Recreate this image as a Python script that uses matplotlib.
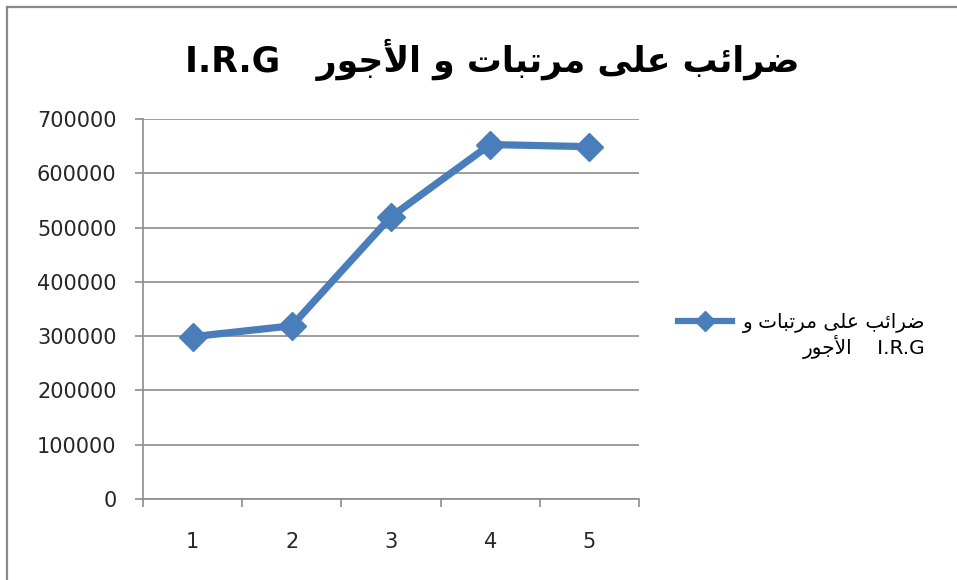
import numpy as np
import matplotlib
matplotlib.use('Agg')
from matplotlib import pyplot as plt
from matplotlib.lines import Line2D

# data
categories = [1, 2, 3, 4, 5]
values = [299000, 319000, 520000, 653000, 649000]
y_ticks = [0, 100000, 200000, 300000, 400000, 500000, 600000, 700000]
title_text = 'ضرائب على مرتبات و الأجور   I.R.G'
legend_line1 = 'ضرائب على مرتبات و'
legend_line2 = 'الأجور    I.R.G'

# minimal arabic shaping (presentation forms: isolated, final, initial, medial)
FORMS = {
    'ض': (0xFEBD, 0xFEBE, 0xFEBF, 0xFEC0),
    'ر': (0xFEAD, 0xFEAE),
    'ا': (0xFE8D, 0xFE8E),
    'ئ': (0xFE89, 0xFE8A, 0xFE8B, 0xFE8C),
    'ب': (0xFE8F, 0xFE90, 0xFE91, 0xFE92),
    'ع': (0xFEC9, 0xFECA, 0xFECB, 0xFECC),
    'ل': (0xFEDD, 0xFEDE, 0xFEDF, 0xFEE0),
    'ى': (0xFEEF, 0xFEF0),
    'م': (0xFEE1, 0xFEE2, 0xFEE3, 0xFEE4),
    'ت': (0xFE95, 0xFE96, 0xFE97, 0xFE98),
    'و': (0xFEED, 0xFEEE),
    'أ': (0xFE83, 0xFE84),
    'ج': (0xFE9D, 0xFE9E, 0xFE9F, 0xFEA0),
}
LAM_ALEF = {'أ': (0xFEF7, 0xFEF8), 'ا': (0xFEFB, 0xFEFC)}


def shape_word(w):
    out = []
    i = 0
    prev_dual = False
    while i < len(w):
        c = w[i]
        if c == 'ل' and i + 1 < len(w) and w[i + 1] in LAM_ALEF:
            f = LAM_ALEF[w[i + 1]]
            out.append(chr(f[1] if prev_dual else f[0]))
            prev_dual = False
            i += 2
            continue
        f = FORMS[c]
        dual = len(f) == 4
        nxt = dual and i + 1 < len(w) and w[i + 1] in FORMS
        if prev_dual and nxt:
            k = 3
        elif prev_dual:
            k = 1
        elif nxt:
            k = 2
        else:
            k = 0
        out.append(chr(f[k]))
        prev_dual = dual
        i += 1
    return ''.join(out)


def visual(text, rtl=True):
    toks = []
    for t in text.split(' '):
        if t and t[0] in FORMS:
            toks.append(shape_word(t)[::-1])
        else:
            toks.append(t)
    if rtl:
        toks = toks[::-1]
    return ' '.join(toks)


plt.rcParams['font.family'] = ['DejaVu Sans']
blue = '#4a7ebb'
grid_c = '#8c8c8c'

fig = plt.figure(figsize=(9.57, 5.8), dpi=100)
ax = fig.add_axes([0.1494, 0.1397, 0.5183, 0.6551])

ax.plot(categories, values, color=blue, lw=5.2, marker='D', ms=14,
        mec=blue, mfc=blue, solid_joinstyle='miter', label=visual(legend_line1))

ax.set_xlim(0.5, 5.5)
ax.set_ylim(0, 700000)
ax.set_yticks(y_ticks)
ax.set_yticklabels([str(v) for v in y_ticks])
ax.set_xticks(categories)
ax.set_xticks(np.arange(0.5, 6.0, 1.0), minor=True)
ax.yaxis.grid(True, color=grid_c, lw=1.2)
ax.set_axisbelow(True)
for s in ['top', 'right']:
    ax.spines[s].set_visible(False)
for s in ['left', 'bottom']:
    ax.spines[s].set_color(grid_c)
    ax.spines[s].set_linewidth(1.2)
ax.tick_params(axis='y', direction='out', length=6, width=1.2, color=grid_c,
               pad=13, labelsize=15, labelcolor='#262626')
ax.tick_params(axis='x', which='major', length=0, pad=24, labelsize=15,
               labelcolor='#262626')
ax.tick_params(axis='x', which='minor', direction='out', length=6, width=1.2,
               color=grid_c)

fig.text(0.514, 0.897, visual(title_text), ha='center', va='center',
         fontsize=25, fontweight='bold', color='black')

leg = ax.legend(loc='center left', bbox_to_anchor=(0.7085, 0.443),
                bbox_transform=fig.transFigure, frameon=False, fontsize=14.5,
                handlelength=2.7, handletextpad=0.5, borderpad=0, borderaxespad=0)
for h in leg.legend_handles:
    h.set_markersize(10)
    h.set_linewidth(4.5)

fig.canvas.draw()
bb = leg.get_texts()[0].get_window_extent()
fig.text(bb.x1 / fig.bbox.width, (bb.y0 - 14) / fig.bbox.height,
         visual(legend_line2, rtl=False), ha='right', va='center', fontsize=14.5)

# chart frame (top and left edges)
fig.add_artist(Line2D([7 / 957, 1], [1 - 6.5 / 580] * 2, transform=fig.transFigure,
                      color='#888888', lw=1.6))
fig.add_artist(Line2D([7 / 957] * 2, [0, 1 - 6.5 / 580], transform=fig.transFigure,
                      color='#888888', lw=1.6))

fig.savefig('out.png', dpi=100)
